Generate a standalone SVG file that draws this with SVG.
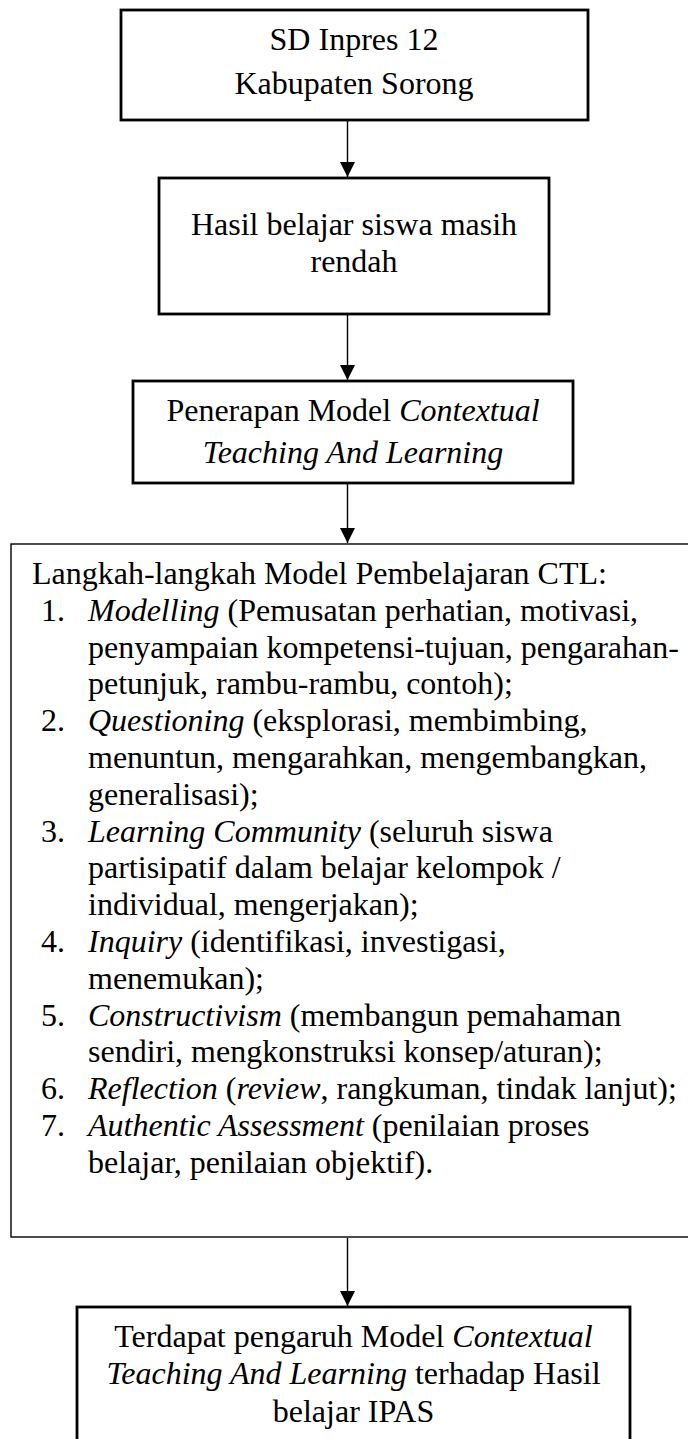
<svg xmlns="http://www.w3.org/2000/svg" width="688" height="1439" viewBox="0 0 688 1439">
<style>
text{font-family:"Liberation Serif","Times New Roman",serif;font-size:32px;fill:#000}
.c{text-anchor:middle}
.box{fill:#fff;stroke:#000;stroke-width:2.8}
.thin{fill:#fff;stroke:#000;stroke-width:1.4}
.conn{stroke:#000;stroke-width:1.4;fill:none}
.i{font-style:italic}
</style>
<defs>
<marker id="arr" markerUnits="userSpaceOnUse" markerWidth="16" markerHeight="15" refX="15" refY="7.5" orient="auto">
<path d="M0,0 L15,7.5 L0,15 Z" fill="#000"/>
</marker>
</defs>
<rect width="688" height="1439" fill="#fff"/>
<g id="connectors">
<line class="conn" x1="347.5" y1="121" x2="347.5" y2="177" marker-end="url(#arr)"/>
<line class="conn" x1="347.5" y1="315" x2="347.5" y2="380" marker-end="url(#arr)"/>
<line class="conn" x1="347.5" y1="484" x2="347.5" y2="543" marker-end="url(#arr)"/>
<line class="conn" x1="347.5" y1="1238" x2="347.5" y2="1306" marker-end="url(#arr)"/>
</g>
<g id="node1">
<rect class="box" x="121" y="10" width="467" height="110"/>
<text class="c" x="354" y="50">SD Inpres 12</text>
<text class="c" x="354" y="94">Kabupaten Sorong</text>
</g>
<g id="node2">
<rect class="box" x="159" y="178" width="390" height="136"/>
<text class="c" x="354" y="235">Hasil belajar siswa masih</text>
<text class="c" x="354" y="272">rendah</text>
</g>
<g id="node3">
<rect class="box" x="133" y="381" width="440" height="102"/>
<text class="c" x="353" y="421">Penerapan Model <tspan class="i">Contextual</tspan></text>
<text class="c i" x="353" y="463">Teaching And Learning</text>
</g>
<g id="node4">
<rect class="thin" x="11" y="544" width="700" height="693"/>
<text x="32" y="584">Langkah-langkah Model Pembelajaran CTL:</text>
<text x="41" y="620.8">1.</text>
<text x="88" y="620.8"><tspan class="i">Modelling</tspan> (Pemusatan perhatian, motivasi,</text>
<text x="88" y="657.6">penyampaian kompetensi-tujuan, pengarahan-</text>
<text x="88" y="694.4">petunjuk, rambu-rambu, contoh);</text>
<text x="41" y="731.2">2.</text>
<text x="88" y="731.2"><tspan class="i">Questioning</tspan> (eksplorasi, membimbing,</text>
<text x="88" y="768">menuntun, mengarahkan, mengembangkan,</text>
<text x="88" y="804.8">generalisasi);</text>
<text x="41" y="841.6">3.</text>
<text x="88" y="841.6"><tspan class="i">Learning Community</tspan> (seluruh siswa</text>
<text x="88" y="878.4">partisipatif dalam belajar kelompok /</text>
<text x="88" y="915.2">individual, mengerjakan);</text>
<text x="41" y="952">4.</text>
<text x="88" y="952"><tspan class="i">Inquiry</tspan> (identifikasi, investigasi,</text>
<text x="88" y="988.8">menemukan);</text>
<text x="41" y="1025.6">5.</text>
<text x="88" y="1025.6"><tspan class="i">Constructivism</tspan> (membangun pemahaman</text>
<text x="88" y="1062.4">sendiri, mengkonstruksi konsep/aturan);</text>
<text x="41" y="1099.2">6.</text>
<text x="88" y="1099.2"><tspan class="i">Reflection</tspan> (<tspan class="i">review</tspan>, rangkuman, tindak lanjut);</text>
<text x="41" y="1136">7.</text>
<text x="88" y="1136"><tspan class="i">Authentic Assessment</tspan> (penilaian proses</text>
<text x="88" y="1172.8">belajar, penilaian objektif).</text>
</g>
<g id="node5">
<rect class="box" x="77" y="1307" width="553" height="150"/>
<text class="c" x="353.5" y="1347">Terdapat pengaruh Model <tspan class="i">Contextual</tspan></text>
<text class="c" x="353.5" y="1384"><tspan class="i">Teaching And Learning</tspan> terhadap Hasil</text>
<text class="c" x="353.5" y="1422">belajar IPAS</text>
</g>
</svg>
